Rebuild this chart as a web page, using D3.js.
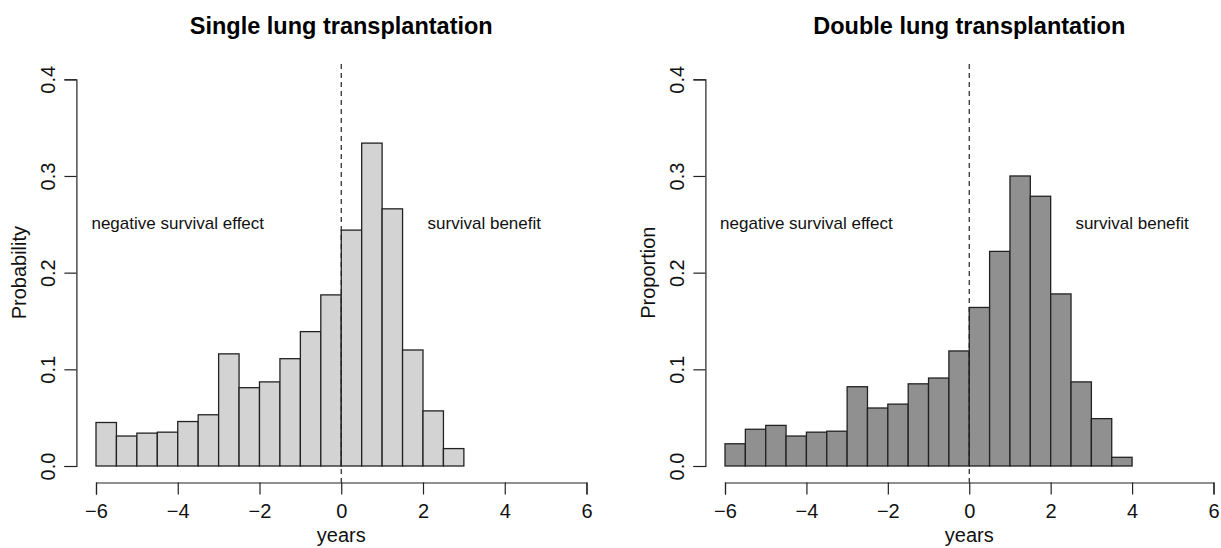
<!DOCTYPE html>
<html>
<head>
<meta charset="utf-8">
<script src="https://cdn.jsdelivr.net/npm/d3@7"></script>
<style>
  body { margin: 0; background: #fff; }
  svg { font-family: "Liberation Sans", Arial, Helvetica, sans-serif; }
</style>
</head>
<body>
<svg width="1221" height="548"></svg>
<script>
// bin left edges (years), bins are 0.5 wide
const singleEdges = [-6, -5.5, -5, -4.5, -4, -3.5, -3, -2.5, -2, -1.5, -1, -0.5, 0, 0.5, 1, 1.5, 2, 2.5]
const singleValues = [0.045, 0.031, 0.034, 0.035, 0.046, 0.053, 0.116, 0.081, 0.087, 0.111, 0.139, 0.177, 0.244, 0.334, 0.266, 0.120, 0.057, 0.018]

const doubleEdges = [-6, -5.5, -5, -4.5, -4, -3.5, -3, -2.5, -2, -1.5, -1, -0.5, 0, 0.5, 1, 1.5, 2, 2.5, 3, 3.5]
const doubleValues = [0.023, 0.038, 0.042, 0.031, 0.035, 0.036, 0.082, 0.060, 0.064, 0.085, 0.091, 0.119, 0.164, 0.222, 0.300, 0.279, 0.178, 0.087, 0.049, 0.009]

const xTicks = [-6, -4, -2, 0, 2, 4, 6]
const yTicks = [0, 0.1, 0.2, 0.3, 0.4]

const svg = d3.select("svg")

function histPanel(opts) {
  const x = d3.scaleLinear().domain([-6, 6]).range(opts.xRange)
  const y = d3.scaleLinear().domain([0, 0.4]).range([466, 79.3])
  const binW = 0.5
  const g = svg.append("g")

  g.selectAll("rect")
    .data(opts.edges.map((e, i) => ({ x0: e, v: opts.values[i] })))
    .enter()
    .append("rect")
    .attr("x", d => x(d.x0))
    .attr("width", d => x(d.x0 + binW) - x(d.x0))
    .attr("y", d => y(d.v))
    .attr("height", d => y(0) - y(d.v))
    .style("fill", opts.fill)
    .style("stroke", "#222")
    .style("stroke-width", "1.3px")

  // vertical reference at 0
  g.append("line")
    .attr("x1", x(0)).attr("x2", x(0))
    .attr("y1", 64).attr("y2", 482.5)
    .style("stroke", "#222")
    .style("stroke-width", "1.2px")
    .style("stroke-dasharray", "5,4")

  // x axis
  const xAxis = g.append("g")
    .attr("transform", "translate(0,482.5)")
    .call(d3.axisBottom(x).tickValues(xTicks).tickSizeOuter(0).tickSize(12))
  xAxis.selectAll("path, line").style("stroke", "#222").style("stroke-width", "1.2px")
  xAxis.selectAll("text")
    .attr("y", 35).attr("dy", null)
    .style("font-size", "20px").style("fill", "#111")
    .style("font-family", "Liberation Sans, Arial, sans-serif")

  // y axis
  const yAxisX = x.range()[0] - 19.6
  const yAxis = g.append("g")
    .attr("transform", `translate(${yAxisX},0)`)
    .call(d3.axisLeft(y).tickValues(yTicks).tickFormat(d3.format(".1f")).tickSizeOuter(0).tickSize(12))
  yAxis.selectAll("path, line").style("stroke", "#222").style("stroke-width", "1.2px")
  yAxis.selectAll("text")
    .attr("x", 0).attr("y", -21).attr("dy", null)
    .attr("transform", "rotate(-90)")
    .attr("text-anchor", "middle")
    .style("font-size", "20px").style("fill", "#111")
    .style("font-family", "Liberation Sans, Arial, sans-serif")

  // titles
  g.append("text")
    .attr("x", x(0)).attr("y", 34)
    .attr("text-anchor", "middle")
    .style("font-size", "23.5px").style("font-weight", "bold")
    .text(opts.title)

  g.append("text")
    .attr("x", x(0)).attr("y", 542)
    .attr("text-anchor", "middle")
    .style("font-size", "20px").style("fill", "#111")
    .text("years")

  g.append("text")
    .attr("transform", `translate(${yAxisX - 50},${y(0.2)}) rotate(-90)`)
    .attr("text-anchor", "middle")
    .style("font-size", "20px").style("fill", "#111")
    .text(opts.yLabel)

  // annotations
  g.append("text")
    .attr("x", x(-4)).attr("y", y(0.25)).attr("dy", "0.25em")
    .attr("text-anchor", "middle")
    .style("font-size", "17px").style("fill", "#111")
    .text("negative survival effect")

  g.append("text")
    .attr("x", x(opts.benefitAt)).attr("y", y(0.25)).attr("dy", "0.25em")
    .attr("text-anchor", "middle")
    .style("font-size", "17px").style("fill", "#111")
    .text("survival benefit")
}

histPanel({
  edges: singleEdges, values: singleValues, xRange: [96, 586.5],
  fill: "#d3d3d3", title: "Single lung transplantation", yLabel: "Probability", benefitAt: 3.5
})

histPanel({
  edges: doubleEdges, values: doubleValues, xRange: [725, 1213.5],
  fill: "#909090", title: "Double lung transplantation", yLabel: "Proportion", benefitAt: 4
})
</script>
</body>
</html>
